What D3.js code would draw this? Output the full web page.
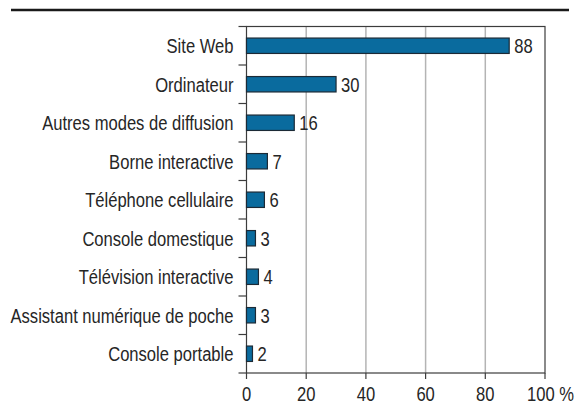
<!DOCTYPE html>
<html>
<head>
<meta charset="utf-8">
<script src="https://cdn.jsdelivr.net/npm/d3@7"></script>
<style>
  body { margin: 0; background: #fff; }
  svg { display: block; }
  text { font-family: "Liberation Sans", Arial, sans-serif; fill: #262626; font-size: 21px; }
</style>
</head>
<body>
<div id="chart"></div>
<script>
const categories = [
  "Site Web",
  "Ordinateur",
  "Autres modes de diffusion",
  "Borne interactive",
  "Téléphone cellulaire",
  "Console domestique",
  "Télévision interactive",
  "Assistant numérique de poche",
  "Console portable"
];
const values = [88, 30, 16, 7, 6, 3, 4, 3, 2];
const xTicks = [0, 20, 40, 60, 80, 100];

const width = 579, height = 404;
const margin = { top: 26.5, right: 34, bottom: 31, left: 246.5 };
const narrow = 0.79; // condensed look

const svg = d3.select("#chart")
  .append("svg")
  .attr("width", width)
  .attr("height", height);

// top rule
svg.append("line")
  .attr("x1", 11).attr("x2", 569)
  .attr("y1", 10).attr("y2", 10)
  .attr("stroke", "#1a1a1a")
  .attr("stroke-width", 2.5);

const x = d3.scaleLinear()
  .domain([0, 100])
  .range([margin.left, width - margin.right]);

const y = d3.scaleBand()
  .domain(categories)
  .range([margin.top, height - margin.bottom])
  .paddingInner(0.6)
  .paddingOuter(0.3);

const plotBottom = height - margin.bottom;

// grid lines
svg.append("g")
  .selectAll("line")
  .data(xTicks.filter(d => d > 0 && d < 100))
  .enter()
  .append("line")
  .attr("x1", d => x(d)).attr("x2", d => x(d))
  .attr("y1", margin.top).attr("y2", plotBottom)
  .attr("stroke", "#b4b4b4")
  .attr("stroke-width", 1.5);

// frame
svg.append("rect")
  .attr("x", margin.left)
  .attr("y", margin.top)
  .attr("width", x(100) - margin.left)
  .attr("height", plotBottom - margin.top)
  .attr("fill", "none")
  .attr("stroke", "#3c3c3c")
  .attr("stroke-width", 1.2);

// category boundary ticks
const boundaries = categories.map(c => y(c) - y.step() * y.paddingInner() / 2);
boundaries.push(plotBottom);
svg.append("g")
  .selectAll("line")
  .data(boundaries)
  .enter()
  .append("line")
  .attr("x1", margin.left - 8).attr("x2", margin.left)
  .attr("y1", d => d).attr("y2", d => d)
  .attr("stroke", "#3c3c3c")
  .attr("stroke-width", 1.2);

// bottom ticks
svg.append("g")
  .selectAll("line")
  .data(xTicks)
  .enter()
  .append("line")
  .attr("x1", d => x(d)).attr("x2", d => x(d))
  .attr("y1", plotBottom).attr("y2", plotBottom + 6)
  .attr("stroke", "#3c3c3c")
  .attr("stroke-width", 1.2);

// tick labels
svg.append("g")
  .selectAll("text")
  .data(xTicks)
  .enter()
  .append("text")
  .attr("transform", d => "translate(" + (d === 100 ? x(d) - 18 : x(d)) + "," + (plotBottom + 28) + ")scale(" + narrow + ",1)")
  .attr("text-anchor", d => d === 100 ? "start" : "middle")
  .text(d => d === 100 ? "100 %" : d);

// bars
svg.append("g")
  .selectAll("rect")
  .data(values)
  .enter()
  .append("rect")
  .attr("x", x(0))
  .attr("y", (d, i) => y(categories[i]))
  .attr("width", d => x(d) - x(0))
  .attr("height", y.bandwidth())
  .attr("fill", "#0a6b9e")
  .attr("stroke", "#1c2a36")
  .attr("stroke-width", 1.2);

// value labels
svg.append("g")
  .selectAll("text")
  .data(values)
  .enter()
  .append("text")
  .attr("transform", (d, i) => "translate(" + (x(d) + 5) + "," + (y(categories[i]) + y.bandwidth() / 2) + ")scale(" + narrow + ",1)")
  .attr("dy", "0.36em")
  .text(d => d);

// category labels
svg.append("g")
  .selectAll("text")
  .data(categories)
  .enter()
  .append("text")
  .attr("transform", d => "translate(" + (margin.left - 13) + "," + (y(d) + y.bandwidth() / 2) + ")scale(" + narrow + ",1)")
  .attr("dy", "0.36em")
  .attr("text-anchor", "end")
  .text(d => d);
</script>
</body>
</html>
